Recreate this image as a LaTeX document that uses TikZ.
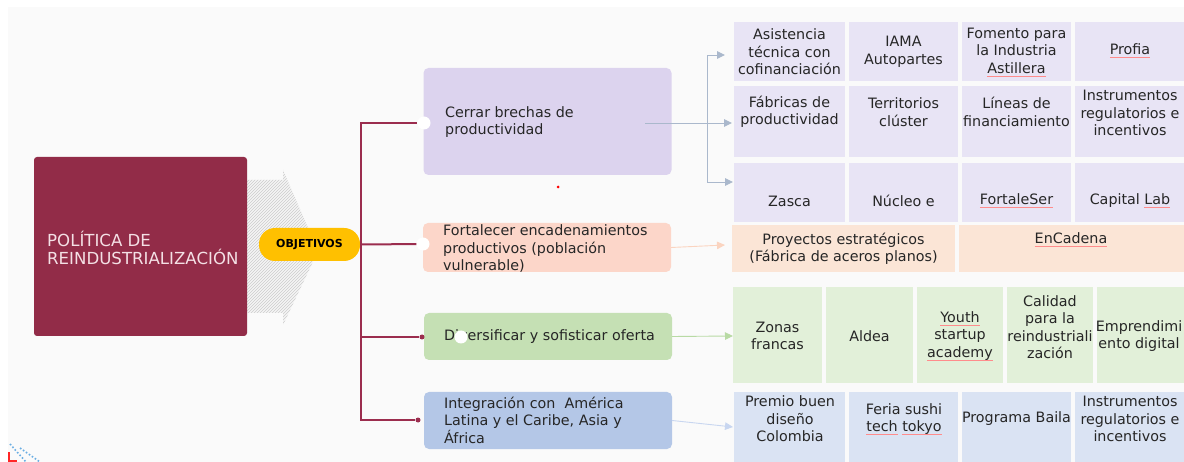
\documentclass[tikz,border=0pt]{standalone}
\usepackage{fontspec}
\setmainfont{DejaVu Sans}
\usetikzlibrary{arrows.meta,patterns}
\definecolor{vino}{RGB}{146,44,72}
\definecolor{rama}{RGB}{155,45,78}
\definecolor{oro}{RGB}{255,192,0}
\definecolor{fondo}{RGB}{250,250,250}
\definecolor{lila}{RGB}{220,211,238}
\definecolor{salmon}{RGB}{252,214,201}
\definecolor{verde}{RGB}{197,224,180}
\definecolor{azul}{RGB}{180,199,231}
\definecolor{lilac}{RGB}{232,228,245}
\definecolor{salmonc}{RGB}{251,229,214}
\definecolor{verdec}{RGB}{226,240,217}
\definecolor{azulc}{RGB}{218,227,243}
\definecolor{gris}{RGB}{170,184,204}
\newsavebox\malbox
\newcommand\mal[1]{\sbox\malbox{#1}\rlap{\textcolor{red!45}{\rule[-3pt]{\wd\malbox}{0.6pt}}}\usebox\malbox}

\begin{document}
\begin{tikzpicture}[x=1pt,y=-1pt,
  txt/.style={font=\fontsize{14.3}{17.5}\selectfont, text=black!85, align=center, inner sep=0pt},
  obj/.style={rounded corners=5pt, minimum width=248pt, inner sep=0pt},
  tree/.style={draw=rama, line width=2pt},
  link/.style={draw=gris, line width=0.9pt, -{Triangle[length=8pt,width=7.5pt]}},
  hole/.style={circle, fill=white, minimum size=13pt, inner sep=0pt},
  dot/.style={circle, fill=rama, minimum size=5pt, inner sep=0pt}]
\useasboundingbox (0,0) rectangle (1184,462);
\fill[fondo] (8,7) rectangle (1184,462);

\path[preaction={fill=gray!8}, pattern=north east lines, pattern color=gray!40]
  (247,180) -- (283,180) -- (283,170) -- (318,251) -- (283,325) -- (283,313) -- (247,313) -- cycle;
\node[fill=vino, rounded corners=3pt, minimum width=213pt, minimum height=179pt] (pol) at (140.5,246.5) {};
\node[align=left, anchor=west, inner sep=0pt, font=\fontsize{16.6}{18}\selectfont,
  text={rgb,255:red,244;green,224;blue,229}] (polt) at (47,248) {POLÍTICA DE\\REINDUSTRIALIZACIÓN};
\node[fill=oro, rounded corners=16pt, minimum width=101pt, minimum height=33pt, inner sep=0pt,
  font=\bfseries\fontsize{11}{13}\selectfont] (objv) at (309.5,244.5) {OBJETIVOS};

\node[obj, fill=lila, minimum height=107pt] (o1) at (547.5,121.5) {};
\node[obj, fill=salmon, minimum height=49pt] (o2) at (547,247.5) {};
\node[obj, fill=verde, minimum height=47pt] (o3) at (548,336.5) {};
\node[obj, fill=azul, minimum height=57pt] (o4) at (548,420.5) {};

\coordinate (hub) at (361,244);
\node[hole] (h1) at (424,123) {};
\node[hole] (h2) at (423,244) {};
\node[dot] (d3) at (422,337) {};
\node[dot] (d4) at (418,420) {};
\path[draw,tree] (objv.east) -- (h2);
\path[draw,tree] (hub) |- (h1);
\path[draw,tree] (hub) |- (d3);
\path[draw,tree] (hub) |- (d4);

\node[txt, align=left, anchor=west] (t1) at (445,122) {Cerrar brechas de\\productividad};
\node[txt, align=left, anchor=west] (t2) at (443,249) {Fortalecer encadenamientos\\productivos (población\\vulnerable)};
\node[txt, anchor=west] (t3) at (444,337) {Diversificar y sofisticar oferta};
\node[txt, align=left, anchor=west] (t4) at (444,420) {Integración con\ \ América\\Latina y el Caribe, Asia y\\África};
\node[hole] (h3) at (461,337) {};
\node[circle, fill=red, minimum size=3pt, inner sep=0pt] (pto) at (558,187) {};

\foreach \xa/\xb in {734/845,849/958,962/1071,1075/1190}{
  \fill[lilac] (\xa,22) rectangle (\xb,81);
  \fill[lilac] (\xa,86) rectangle (\xb,157);
  \fill[lilac] (\xa,163) rectangle (\xb,222);
  \fill[azulc] (\xa,392) rectangle (\xb,470);}
\fill[salmonc] (732,225) rectangle (955,272);
\fill[salmonc] (959,225) rectangle (1190,272);
\foreach \xa/\xb in {733/822,826/913,917/1003,1007/1093,1097/1190}
  \fill[verdec] (\xa,287) rectangle (\xb,383);

\node[txt] (a1) at (789.5,52) {Asistencia\\técnica con\\cofinanciación};
\node[txt] (a2) at (903.5,52) {IAMA\\Autopartes};
\node[txt] (a3) at (1016.5,52) {Fomento para\\la Industria\\\mal{Astillera}};
\node[txt] (a4) at (1130,51) {\mal{Profia}};
\node[txt] (b1) at (789.5,112) {Fábricas de\\productividad};
\node[txt] (b2) at (903.5,112) {Territorios\\clúster};
\node[txt] (b3) at (1016.5,112) {Líneas de\\financiamiento};
\node[txt] (b4) at (1130,113) {Instrumentos\\regulatorios e\\incentivos};
\node[txt] (c1) at (789.5,201) {Zasca};
\node[txt] (c2) at (903.5,201) {Núcleo e};
\node[txt] (c3) at (1016.5,201) {\mal{FortaleSer}};
\node[txt] (c4) at (1130,201) {Capital \mal{Lab}};
\node[txt] (p1) at (843.5,249) {Proyectos estratégicos\\(Fábrica de aceros planos)};
\node[txt] (p2) at (1071,240) {\mal{EnCadena}};
\node[txt] (v1) at (777.5,336) {Zonas\\francas};
\node[txt] (v2) at (869.5,336) {Aldea};
\node[txt] (v3) at (960,336) {\mal{Youth}\\startup\\\mal{academy}};
\node[txt] (v4) at (1050,327) {Calidad\\para la\\reindustriali\\zación};
\node[txt] (v5) at (1139,336) {Emprendimi\\ento digital};
\node[txt] (z1) at (790,419) {Premio buen\\diseño\\Colombia};
\node[txt] (z2) at (904,419) {Feria sushi\\\mal{tech} \mal{tokyo}};
\node[txt] (z3) at (1016.5,419) {Programa Baila};
\node[txt] (z4) at (1130,419) {Instrumentos\\regulatorios e\\incentivos};

\coordinate (s1) at (645,123);
\coordinate (j) at (707,123);
\coordinate (g1) at (725,55);
\coordinate (g2) at (732,123);
\coordinate (g3) at (733,182);
\coordinate (g5) at (725,245);
\coordinate (g6) at (733,336);
\coordinate (g7) at (733,427);
\path[draw,link] (s1) -- (g2);
\path[draw,link] (j) |- (g1);
\path[draw,link] (j) |- (g3);
\path[draw,link,draw={rgb,255:red,250;green,212;blue,192}] (o2.east) -- (g5);
\path[draw,link,draw={rgb,255:red,184;green,218;blue,164}] (o3.east) -- (g6);
\path[draw,link,draw={rgb,255:red,200;green,214;blue,240}] (o4.east) -- (g7);

\draw[red!85, line width=1.6pt] (9,452) -- (9,461) -- (17,461);
\draw[cyan!70!blue!60, line width=1.6pt, dotted] (10,444) -- (26,462);
\draw[cyan!70!blue!60, line width=1.6pt, dotted] (20,448) -- (40,462);
\end{tikzpicture}
\end{document}
